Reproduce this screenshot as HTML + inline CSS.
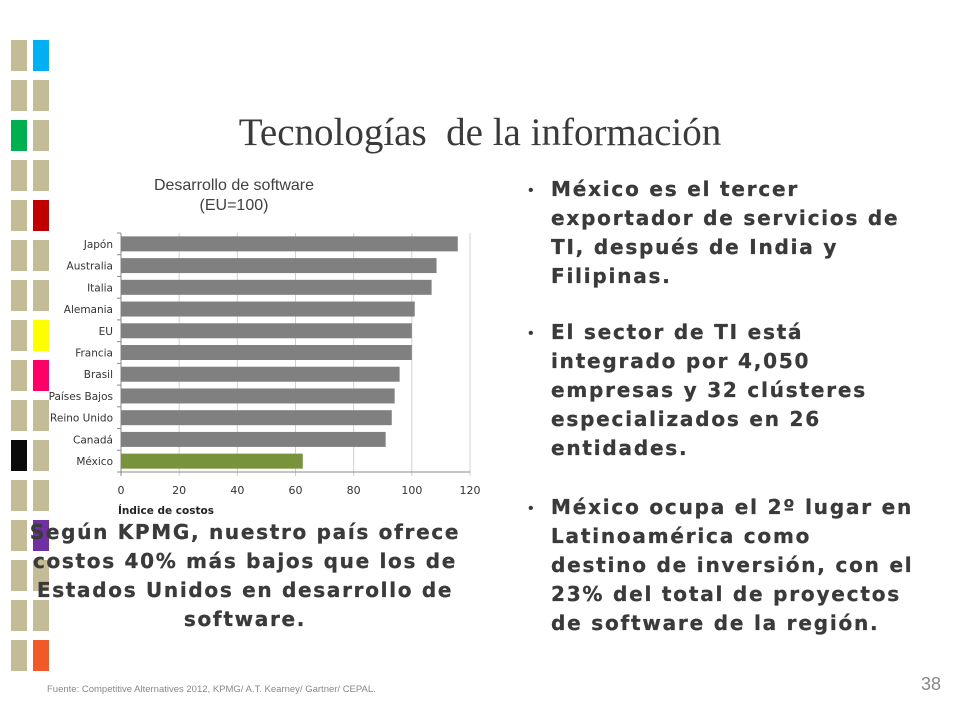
<!DOCTYPE html>
<html><head><meta charset="utf-8"><style>
body{margin:0;width:960px;height:720px;background:#fff;position:relative;overflow:hidden;font-family:"Liberation Sans",Arial,sans-serif}
.sq{position:absolute;width:16px;height:31px;background:#c4bc96}
.t{position:absolute;white-space:nowrap}
.bul{position:absolute;left:551px;font-family:"DejaVu Sans",sans-serif;font-weight:bold;font-size:20px;letter-spacing:1.8px;line-height:29px;color:#3a3a3a;white-space:nowrap;-webkit-text-stroke:0.3px #3a3a3a}
.dot{position:absolute;left:528px;font-size:16px;color:#3a3a3a}
</style></head><body>
<div id="squares"></div>
<div class="t" style="left:0;width:960px;text-align:center;top:110px;font-family:'Liberation Serif',serif;font-size:39px;color:#3a3a3a">Tecnologías&nbsp; de la información</div>
<div class="t" style="left:134px;width:200px;text-align:center;top:176px;font-size:16px;line-height:20px;color:#404040">Desarrollo de software<br>(EU=100)</div>
<svg id="chart" width="960" height="720" style="position:absolute;left:0;top:0"></svg>
<div class="dot" style="top:182px">•</div>
<div class="bul" style="top:175px">México es el tercer<br>exportador de servicios de<br>TI, después de India y<br>Filipinas.</div>
<div class="dot" style="top:325px">•</div>
<div class="bul" style="top:318px">El sector de TI está<br>integrado por 4,050<br>empresas y 32 clústeres<br>especializados en 26<br>entidades.</div>
<div class="dot" style="top:500px">•</div>
<div class="bul" style="top:493px">México ocupa el 2º lugar en<br>Latinoamérica como<br>destino de inversión, con el<br>23% del total de proyectos<br>de software de la región.</div>
<div class="t" style="left:10px;width:470px;text-align:center;top:518px;font-family:'DejaVu Sans',sans-serif;font-weight:bold;font-size:20px;letter-spacing:1.7px;line-height:29px;color:#3a3a3a;-webkit-text-stroke:0.3px #3a3a3a">Según KPMG, nuestro país ofrece<br>costos 40% más bajos que los de<br>Estados Unidos en desarrollo de<br>software.</div>
<div class="t" style="left:47px;top:684px;font-size:9.5px;color:#888">Fuente: Competitive Alternatives 2012, KPMG/ A.T. Kearney/ Gartner/ CEPAL.</div>
<div class="t" style="left:921px;top:674px;font-size:18px;color:#888">38</div>
<script>
const categories=["Japón","Australia","Italia","Alemania","EU","Francia","Brasil","Países Bajos","Reino Unido","Canadá","México"];
const values=[115.8,108.5,106.8,101,100,100,95.8,94.1,93.1,91,62.5];
const ticks=[0,20,40,60,80,100,120];
const NS="http://www.w3.org/2000/svg";
const svg=document.getElementById('chart');
const x0=121,x1=470,yT=233,yB=472;
const xs=v=>x0+(v-0)/(120-0)*(x1-x0);
const band=(yB-yT)/categories.length;
function mk(t,a){const e=document.createElementNS(NS,t);for(const k in a)e.setAttribute(k,a[k]);svg.appendChild(e);return e;}
ticks.forEach(t=>{
 const g=mk('line',{x1:xs(t),x2:xs(t),y1:yT,y2:yB+4,stroke:t===0?'#888':'#d0d0d0','stroke-width':1});
 
 
 const l=mk('text',{x:xs(t),y:yB+22,'text-anchor':'middle','font-size':11,fill:'#333','font-family':'DejaVu Sans, sans-serif'});
 l.textContent=t;
 
 
});
mk('line',{x1:x0,x2:x1,y1:yB,y2:yB,stroke:'#888'});
for(let i=0;i<=categories.length;i++){mk('line',{x1:x0-4,x2:x0,y1:yT+i*band,y2:yT+i*band,stroke:'#888'});}
categories.forEach((c,i)=>{
 const yc=yT+(i+0.5)*band;
 const r=mk('rect',{x:x0,y:yc-7.5,width:xs(values[i])-x0,height:15,fill:c==='México'?'#77933c':'#808080'});
 
 
 const l=mk('text',{x:x0-8,y:yc+4,'text-anchor':'end','font-size':10.5,fill:'#333','font-family':'DejaVu Sans, sans-serif'});
 l.textContent=c;
 
 
});
const at=mk('text',{x:118,y:514,'font-size':10.5,'font-weight':'bold',fill:'#222','font-family':'DejaVu Sans, sans-serif'});
at.textContent='Índice de costos';


const sqc=document.getElementById('squares');
const col1={2:'#00b050',10:'#0a0a0a'};
const col2={0:'#00b0f0',4:'#c00000',7:'#ffff00',8:'#ff0066',12:'#7030a0',15:'#f05a28'};
for(let r=0;r<16;r++){[[11,col1],[33,col2]].forEach(([x,m])=>{
 const d=document.createElement('div');d.className='sq';
 
 
 d.style.left=x+'px';d.style.top=(40+r*40)+'px';if(m[r])d.style.background=m[r];sqc.appendChild(d);});}
</script>
</body></html>
